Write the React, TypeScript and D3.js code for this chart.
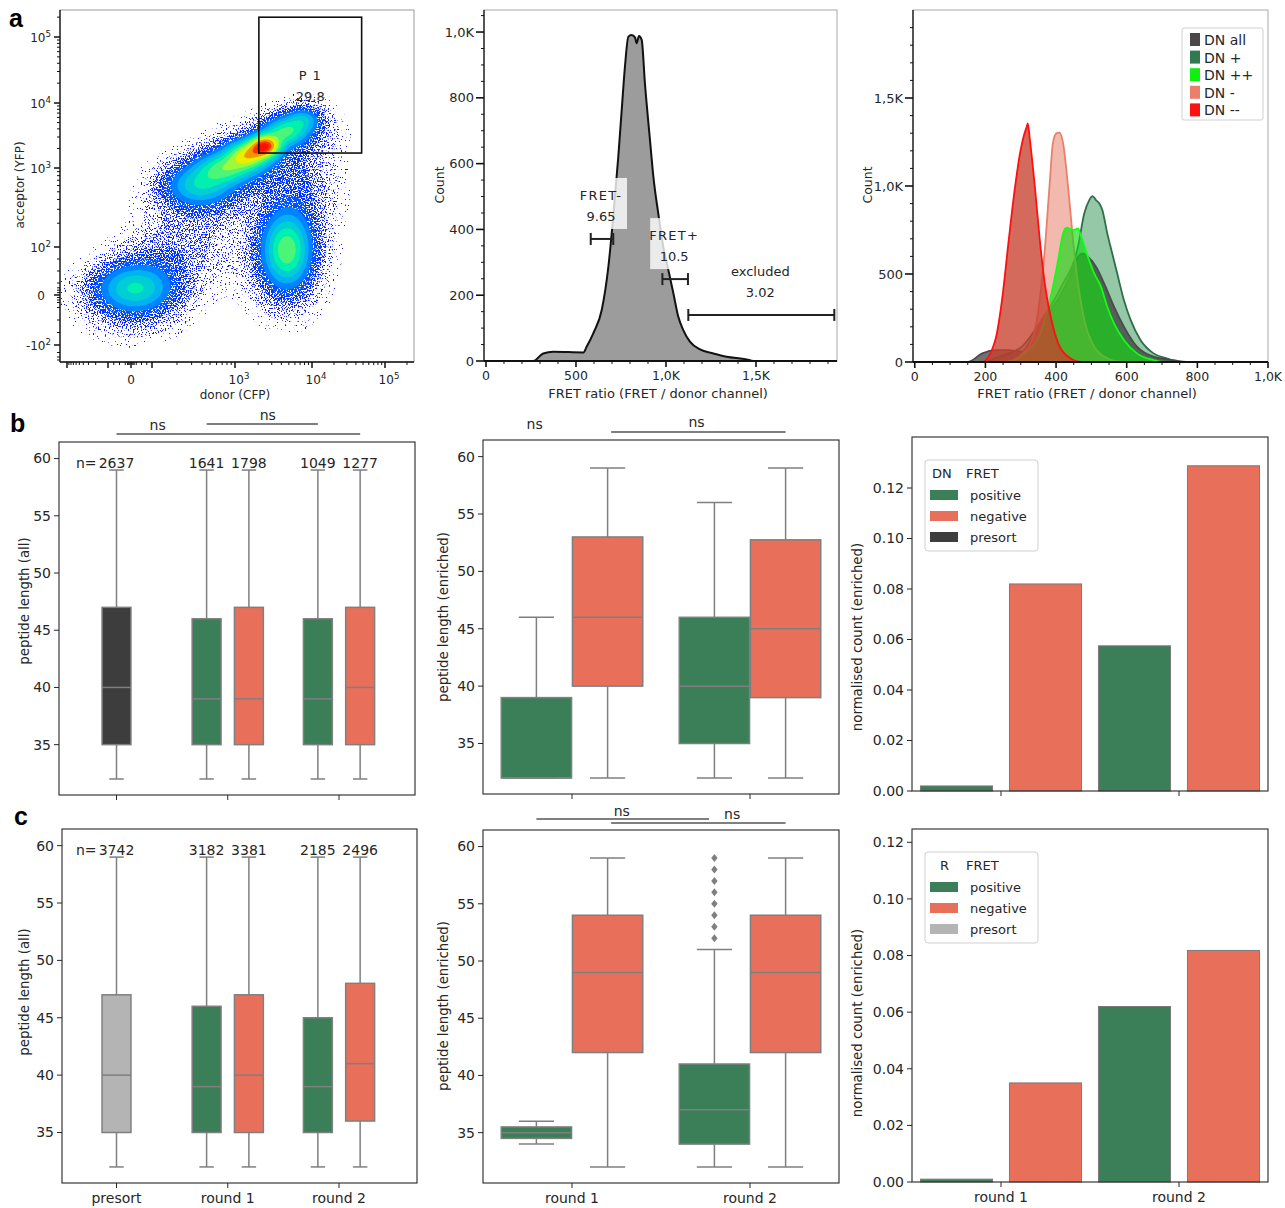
import React, { useMemo } from "react";
import * as d3 from "d3";

const FONT = "'DejaVu Sans', 'Liberation Sans', sans-serif";
const TXT = "#262626";
const GREEN = "#3b7f58";
const SALMON = "#e8705a";
const DARK_PRESORT = "#3d3d3d";
const LIGHT_PRESORT = "#b4b4b4";
const BOX_LINE = "#7f7f7f";

// ================= DATA =================
// a (left) flow density: clusters as ±1σ extents in logicle decade units (0 = zero, 3 = 10^3 ...)
const scatterComponents = [
  { x0: -1.57, x1: 2.06, y0: -0.28, y1: 0.88, w: 0.32 },
  { x0: -2.2, x1: 2.15, y0: -0.95, y1: 0.95, w: 0.1 },
  { x0: 3.49, x1: 3.86, y0: 0.96, y1: 2.24, w: 0.5 },
  { x0: 3.33, x1: 3.97, y0: 0.2, y1: 2.35, w: 0.1 },
  { x0: 2.34, x1: 2.82, y0: 2.63, y1: 2.94, w: 0.3 },
  { x0: 2.66, x1: 3.1, y0: 2.87, y1: 3.15, w: 0.45 },
  { x0: 2.99, x1: 3.35, y0: 3.06, y1: 3.34, w: 0.7 },
  { x0: 3.26, x1: 3.52, y0: 3.23, y1: 3.45, w: 1.0 },
  { x0: 3.47, x1: 3.83, y0: 3.42, y1: 3.69, w: 0.45 },
  { x0: 3.74, x1: 4.03, y0: 3.62, y1: 3.86, w: 0.25 },
  { x0: 2.22, x1: 2.94, y0: 2.47, y1: 2.97, w: 0.08 },
  { x0: 2.82, x1: 3.58, y0: 2.85, y1: 3.43, w: 0.08 },
  { x0: 3.52, x1: 4.17, y0: 3.31, y1: 3.86, w: 0.06 },
  { x0: 2.04, x1: 2.88, y0: 1.04, y1: 2.47, w: 0.04 },
  { x0: 0.38, x1: 2.4, y0: 0.54, y1: 2.06, w: 0.04 },
  { x0: 3.52, x1: 4.17, y0: 2.34, y1: 3.12, w: 0.06 },
];
const scatterGate = { x0: 3.31, x1: 4.68, y0: 3.23, y1: 5.3, name: "P 1", pct: "29.8" };
const scatterXLabels = [
  { u: 0, base: "0", sup: "" },
  { u: 3, base: "10", sup: "3" },
  { u: 4, base: "10", sup: "4" },
  { u: 5, base: "10", sup: "5" },
];
const scatterYLabels = [
  { u: -2, base: "-10", sup: "2" },
  { u: 0, base: "0", sup: "" },
  { u: 2, base: "10", sup: "2" },
  { u: 3, base: "10", sup: "3" },
  { u: 4, base: "10", sup: "4" },
  { u: 5, base: "10", sup: "5" },
];

// a (middle) FRET ratio histogram
const fretRatio = [0, 263, 318, 374, 541, 559, 596, 643, 680, 707, 735, 754, 772, 791, 809, 828, 837, 850, 865, 883, 911, 930, 957, 985, 1013, 1041, 1068, 1096, 1133, 1189, 1263, 1337, 1448, 1485, 1940];
const fretCount = [0, 0, 23, 28, 26, 43, 84, 155, 287, 439, 621, 763, 895, 986, 991, 984, 966, 988, 976, 844, 672, 560, 449, 347, 277, 206, 135, 94, 59, 35, 23, 13, 5, 0, 0];
const fretGates = [
  { name: "FRET-", pct: "9.65", x0: 582, x1: 707, y: 371 },
  { name: "FRET+", pct: "10.5", x0: 980, x1: 1122, y: 249 },
  { name: "excluded", pct: "3.02", x0: 1124, x1: 1935, y: 140 },
];

// a (right) overlaid histograms
const dnAllX = [-5, 150, 191, 228, 266, 303, 340, 378, 415, 443, 462, 476, 490, 513, 536, 564, 592, 629, 676, 732, 769, 1000];
const dnAllY = [0, 0, 49, 68, 68, 59, 163, 276, 390, 504, 598, 617, 598, 542, 447, 314, 201, 87, 30, 11, 0, 0];
const dnPlusX = [-5, 191, 238, 303, 359, 415, 462, 480, 494, 503, 513, 522, 531, 545, 559, 573, 592, 611, 639, 676, 713, 751, 1000];
const dnPlusY = [0, 0, 30, 87, 239, 428, 655, 845, 920, 943, 920, 902, 864, 731, 617, 504, 352, 239, 125, 49, 21, 0, 0];
const dnPlusPlusX = [-5, 256, 312, 359, 387, 406, 420, 430, 448, 462, 471, 490, 508, 527, 545, 564, 592, 629, 676, 704, 1000];
const dnPlusPlusY = [0, 0, 49, 182, 390, 580, 731, 763, 750, 759, 712, 598, 504, 428, 314, 220, 125, 49, 11, 0, 0];
const dnMinusX = [-5, 256, 322, 350, 368, 382, 391, 401, 410, 420, 434, 448, 462, 480, 508, 545, 583, 1000];
const dnMinusY = [0, 0, 87, 295, 636, 1015, 1242, 1299, 1303, 1242, 996, 693, 447, 239, 87, 21, 0, 0];
const dnMinusMinusX = [-5, 191, 228, 247, 266, 284, 298, 308, 317, 320, 326, 340, 354, 368, 387, 406, 434, 471, 1000];
const dnMinusMinusY = [0, 0, 125, 352, 693, 996, 1186, 1280, 1337, 1356, 1261, 996, 693, 447, 239, 106, 30, 0, 0];
const overlayNames = ["DN all", "DN +", "DN ++", "DN -", "DN --"];

// b / c box plots (peptide length)
const boxCategories = ["presort", "round 1", "round 2"];
const bAllBoxes = [
  { cat: 0, hue: "presort", lo: 32, q1: 35, med: 40, q3: 47, hi: 59, n: 2637 },
  { cat: 1, hue: "positive", lo: 32, q1: 35, med: 39, q3: 46, hi: 59, n: 1641 },
  { cat: 1, hue: "negative", lo: 32, q1: 35, med: 39, q3: 47, hi: 59, n: 1798 },
  { cat: 2, hue: "positive", lo: 32, q1: 35, med: 39, q3: 46, hi: 59, n: 1049 },
  { cat: 2, hue: "negative", lo: 32, q1: 35, med: 40, q3: 47, hi: 59, n: 1277 },
];
const cAllBoxes = [
  { cat: 0, hue: "presort", lo: 32, q1: 35, med: 40, q3: 47, hi: 59, n: 3742 },
  { cat: 1, hue: "positive", lo: 32, q1: 35, med: 39, q3: 46, hi: 59, n: 3182 },
  { cat: 1, hue: "negative", lo: 32, q1: 35, med: 40, q3: 47, hi: 59, n: 3381 },
  { cat: 2, hue: "positive", lo: 32, q1: 35, med: 39, q3: 45, hi: 59, n: 2185 },
  { cat: 2, hue: "negative", lo: 32, q1: 36, med: 41, q3: 48, hi: 59, n: 2496 },
];
const enrichedCategories = ["round 1", "round 2"];
const bEnrichedBoxes = [
  { cat: 0, hue: "positive", lo: 32, q1: 32, med: 32, q3: 39, hi: 46, out: [] as number[] },
  { cat: 0, hue: "negative", lo: 32, q1: 40, med: 46, q3: 53, hi: 59, out: [] as number[] },
  { cat: 1, hue: "positive", lo: 32, q1: 35, med: 40, q3: 46, hi: 56, out: [] as number[] },
  { cat: 1, hue: "negative", lo: 32, q1: 39, med: 45, q3: 52.75, hi: 59, out: [] as number[] },
];
const cEnrichedBoxes = [
  { cat: 0, hue: "positive", lo: 34, q1: 34.5, med: 35, q3: 35.5, hi: 36, out: [] as number[] },
  { cat: 0, hue: "negative", lo: 32, q1: 42, med: 49, q3: 54, hi: 59, out: [] as number[] },
  { cat: 1, hue: "positive", lo: 32, q1: 34, med: 37, q3: 41, hi: 51, out: [52, 53, 54, 55, 56, 57, 58, 59] },
  { cat: 1, hue: "negative", lo: 32, q1: 42, med: 49, q3: 54, hi: 59, out: [] as number[] },
];
const peptideTicks = [35, 40, 45, 50, 55, 60];

// b / c bar plots (normalised count)
const bBars = [
  { cat: 0, hue: "positive", value: 0.002 },
  { cat: 0, hue: "negative", value: 0.082 },
  { cat: 1, hue: "positive", value: 0.0575 },
  { cat: 1, hue: "negative", value: 0.1288 },
];
const cBars = [
  { cat: 0, hue: "positive", value: 0.001 },
  { cat: 0, hue: "negative", value: 0.035 },
  { cat: 1, hue: "positive", value: 0.062 },
  { cat: 1, hue: "negative", value: 0.0818 },
];
const countTicks = [0, 0.02, 0.04, 0.06, 0.08, 0.1, 0.12];
const legendHues = ["positive", "negative", "presort"];

// significance annotations (category units)
const bAllSigLines = [{ x0: 0, x1: 2.19 }, { x0: 0.81, x1: 1.81 }];
const bAllSigTexts = [{ x: 0.37, text: "ns" }, { x: 1.36, text: "ns" }];
const bEnrSigLines = [{ x0: 0.22, x1: 1.2 }];
const bEnrSigTexts = [{ x: -0.21, text: "ns" }, { x: 0.7, text: "ns" }];
const cEnrSigLines = [{ x0: -0.2, x1: 0.77 }, { x0: 0.22, x1: 1.2 }];
const cEnrSigTexts = [{ x: 0.28, text: "ns" }, { x: 0.9, text: "ns" }];

// ================= HELPERS =================
function T(props: any) {
  const { children, ...rest } = props;
  return (
    <text fontFamily={FONT} fill={TXT} {...rest}>
      {children}
    </text>
  );
}

function SupLabel({ x, y, base, sup, anchor, size }: any) {
  return (
    <text x={x} y={y} textAnchor={anchor} fontFamily={FONT} fontSize={size} fill="#222">
      {base}
      {sup ? (
        <tspan dy={-5} fontSize={size * 0.72}>
          {sup}
        </tspan>
      ) : null}
    </text>
  );
}

// ================= PANEL a: scatter =================
function ScatterPanel() {
  const L = 60, Tp = 10, R = 414, B = 362;
  const xs = d3.scaleLinear().domain([-3, -2, 0, 2, 3, 4, 5]).range([67, 108, 131, 152, 235, 312, 385]);
  const ys = d3.scaleLinear().domain([-2, 0, 2, 3, 4, 5]).range([345, 295, 247, 168, 103, 37]);
  const cell = 2;
  const gw = Math.ceil((R - L) / cell), gh = Math.ceil((B - Tp) / cell);

  const contours = useMemo(() => {
    const comps = scatterComponents.map((c) => {
      const xa = xs(c.x0), xb = xs(c.x1), ya = ys(c.y0), yb = ys(c.y1);
      return { cx: (xa + xb) / 2, cy: (ya + yb) / 2, sx: Math.abs(xb - xa) / 2, sy: Math.abs(yb - ya) / 2, w: c.w };
    });
    const vals = new Array(gw * gh).fill(0);
    let mx = 0;
    for (let j = 0; j < gh; j++) {
      for (let i = 0; i < gw; i++) {
        const px = L + (i + 0.5) * cell, py = Tp + (j + 0.5) * cell;
        let v = 0;
        for (const c of comps) {
          const dx = (px - c.cx) / c.sx, dy = (py - c.cy) / c.sy;
          v += c.w * Math.exp(-0.5 * (dx * dx + dy * dy));
        }
        vals[j * gw + i] = v;
        if (v > mx) mx = v;
      }
    }
    for (let k = 0; k < vals.length; k++) vals[k] /= mx;
    const th = [0.006, 0.015, 0.03, 0.05, 0.08, 0.12, 0.17, 0.23, 0.3, 0.38, 0.47, 0.57, 0.68, 0.8, 0.9];
    return d3.contours().size([gw, gh]).thresholds(th)(vals);
  }, []);
  const path = d3.geoPath(d3.geoIdentity().scale(cell).translate([L, Tp]) as any);
  const color = d3
    .scaleLinear<string>()
    .domain([0.006, 0.06, 0.15, 0.3, 0.55, 0.85])
    .range(["#1010ff", "#0038ff", "#00a8ff", "#00f0b0", "#e8ff00", "#ff1000"])
    .clamp(true);

  const yMajor = [-2, 0, 2, 3, 4, 5];
  const yMinor: number[] = [-2.6, -2.48, -2.3, -1.5, -1, -0.5, -0.3, -0.2, -0.1, 0.1, 0.2, 0.3, 0.5, 1, 1.5];
  [2, 3, 4].forEach((d) => d3.range(2, 10).forEach((m) => yMinor.push(d + Math.log10(m))));
  yMinor.push(5 + Math.log10(2));
  const xMajor = [-3, -2, 0, 2, 3, 4, 5];
  const xMinor: number[] = [-1.5, -1, -0.5, -0.3, -0.2, -0.1, 0.1, 0.2, 0.3, 0.5, 1, 1.5];
  d3.range(2, 10).forEach((m) => xMinor.push(-2 - Math.log10(m)));
  [2, 3, 4].forEach((d) => d3.range(2, 10).forEach((m) => xMinor.push(d + Math.log10(m))));
  xMinor.push(5 + Math.log10(2));

  const gx0 = xs(scatterGate.x0), gx1 = xs(scatterGate.x1), gy0 = ys(scatterGate.y1), gy1 = ys(scatterGate.y0);
  const speck = [
    { id: "spk0", t: 0.66 },
    { id: "spk1", t: 0.59 },
    { id: "spk2", t: 0.52 },
    { id: "spk3", t: 0.46 },
    { id: "spk4", t: 0.4 },
  ];
  return (
    <g>
      <defs>
        <clipPath id="scClip">
          <rect x={L} y={Tp} width={R - L} height={B - Tp} />
        </clipPath>
        {speck.map((s) => (
          <filter key={s.id} id={s.id} filterUnits="userSpaceOnUse" x={L} y={Tp} width={R - L} height={B - Tp}>
            <feTurbulence type="fractalNoise" baseFrequency="0.75" numOctaves={1} seed={7} result="noise" />
            <feColorMatrix
              in="noise"
              type="matrix"
              values={`0 0 0 0 0  0 0 0 0 0  0 0 0 0 0  25 0 0 0 ${-25 * s.t}`}
              result="mask"
            />
            <feComposite in="SourceGraphic" in2="mask" operator="in" />
          </filter>
        ))}
      </defs>
      <rect x={L} y={Tp} width={R - L} height={B - Tp} fill="#fff" stroke="#9a9a9a" strokeWidth={1} />
      <g clipPath="url(#scClip)">
        {contours.map((c: any, i: number) => (
          <path
            key={i}
            d={path(c) || ""}
            fill={color(c.value)}
            filter={i < speck.length ? `url(#${speck[i].id})` : undefined}
          />
        ))}
      </g>
      <line x1={L} x2={L} y1={Tp} y2={B} stroke="#111" strokeWidth={1.3} />
      <line x1={L} x2={R} y1={B} y2={B} stroke="#111" strokeWidth={1.3} />
      {yMajor.map((u) => (
        <line key={"ym" + u} x1={L - 6} x2={L} y1={ys(u)} y2={ys(u)} stroke="#111" strokeWidth={1.5} />
      ))}
      {yMinor.map((u, i) => (
        <line key={"yn" + i} x1={L - 3} x2={L} y1={ys(u)} y2={ys(u)} stroke="#111" strokeWidth={1} />
      ))}
      {xMajor.map((u) => (
        <line key={"xm" + u} x1={xs(u)} x2={xs(u)} y1={B} y2={B + 6} stroke="#111" strokeWidth={1.5} />
      ))}
      {xMinor.map((u, i) => (
        <line key={"xn" + i} x1={xs(u)} x2={xs(u)} y1={B} y2={B + 3} stroke="#111" strokeWidth={1} />
      ))}
      {scatterYLabels.map((d) => (
        <SupLabel key={"yl" + d.u} x={d.sup ? 51 : 45} y={ys(d.u) + 5} base={d.base} sup={d.sup} anchor="end" size={12} />
      ))}
      {scatterXLabels.map((d) => (
        <SupLabel key={"xl" + d.u} x={xs(d.u) + (d.sup ? 4 : 0)} y={B + 22} base={d.base} sup={d.sup} anchor="middle" size={12} />
      ))}
      <rect x={gx0} y={gy0} width={gx1 - gx0} height={gy1 - gy0} fill="none" stroke="#111" strokeWidth={1.6} />
      <T x={(gx0 + gx1) / 2} y={gy0 + 63} fontSize={13} textAnchor="middle" letterSpacing={1}>
        {scatterGate.name}
      </T>
      <T x={(gx0 + gx1) / 2} y={gy0 + 84} fontSize={13} textAnchor="middle">
        {scatterGate.pct}
      </T>
      <T x={235} y={399} fontSize={12} textAnchor="middle">
        donor (CFP)
      </T>
      <T transform="translate(20,185) rotate(-90)" dy="0.35em" fontSize={12} textAnchor="middle">
        acceptor (YFP)
      </T>
    </g>
  );
}

// ================= FlowJo axes helper =================
function FlowAxes({ L, Tp, R, B, xs, ys, xMajor, xLabels, xMinor, yMajor, yLabels, yMinor, countX, titleX }: any) {
  return (
    <g>
      <rect x={L} y={Tp} width={R - L} height={B - Tp} fill="none" stroke="#a8a8a8" strokeWidth={1} />
      <line x1={L} x2={L} y1={Tp} y2={B} stroke="#111" strokeWidth={1.3} />
      <line x1={L} x2={R} y1={B} y2={B} stroke="#111" strokeWidth={1.8} />
      {yMajor.map((v: number, i: number) => (
        <g key={"ym" + i}>
          <line x1={L - 8} x2={L} y1={ys(v)} y2={ys(v)} stroke="#111" strokeWidth={1.6} />
          <T x={L - 10} y={ys(v)} dy="0.35em" fontSize={13} textAnchor="end">
            {yLabels[i]}
          </T>
        </g>
      ))}
      {yMinor.map((v: number, i: number) => (
        <line key={"yn" + i} x1={L - 3} x2={L} y1={ys(v)} y2={ys(v)} stroke="#111" strokeWidth={1} />
      ))}
      {xMajor.map((v: number, i: number) => (
        <g key={"xm" + i}>
          <line x1={xs(v)} x2={xs(v)} y1={B} y2={B + 6} stroke="#111" strokeWidth={1.6} />
          <T x={xs(v)} y={B + 19} fontSize={12.5} textAnchor="middle">
            {xLabels[i]}
          </T>
        </g>
      ))}
      {xMinor.map((v: number, i: number) => (
        <line key={"xn" + i} x1={xs(v)} x2={xs(v)} y1={B} y2={B + 3} stroke="#111" strokeWidth={1} />
      ))}
      <T transform={`translate(${countX},185) rotate(-90)`} dy="0.35em" fontSize={12.5} textAnchor="middle">
        Count
      </T>
      <T x={titleX} y={398} fontSize={13} textAnchor="middle">
        FRET ratio (FRET / donor channel)
      </T>
    </g>
  );
}

function FretHistPanel() {
  const L = 484, Tp = 10, R = 837, B = 361;
  const xs = d3.scaleLinear().domain([-11, 1950]).range([L, R]);
  const ys = d3.scaleLinear().domain([0, 1067]).range([B, Tp]);
  const area = d3
    .area<number>()
    .x((_, i) => xs(fretRatio[i]))
    .y0(B)
    .y1((d) => ys(d))
    .curve(d3.curveMonotoneX);
  const line = d3
    .line<number>()
    .x((_, i) => xs(fretRatio[i]))
    .y((d) => ys(d))
    .curve(d3.curveMonotoneX);
  const xMajor = [0, 500, 1000, 1500];
  const yMajor = [0, 200, 400, 600, 800, 1000];
  return (
    <g>
      <path d={area(fretCount) || ""} fill="#9c9c9c" />
      <path d={line(fretCount) || ""} fill="none" stroke="#111" strokeWidth={2} />
      {fretGates.map((g) => {
        const a = xs(g.x0), b = xs(g.x1), y = ys(g.y), cx = (a + b) / 2 - 1;
        const hw = g.name === "excluded" ? 32 : 24;
        return (
          <g key={g.name}>
            <rect x={cx - hw} y={y - 61} width={hw * 2 + 2} height={51} fill="#fff" opacity={0.8} />
            <line x1={a} x2={b} y1={y} y2={y} stroke="#222" strokeWidth={2} />
            <line x1={a} x2={a} y1={y - 6} y2={y + 6} stroke="#222" strokeWidth={2} />
            <line x1={b} x2={b} y1={y - 6} y2={y + 6} stroke="#222" strokeWidth={2} />
            <T x={cx} y={y - 39} fontSize={13} textAnchor="middle" letterSpacing={g.name === "excluded" ? 0 : 1.3}>
              {g.name}
            </T>
            <T x={cx} y={y - 18} fontSize={13} textAnchor="middle">
              {g.pct}
            </T>
          </g>
        );
      })}
      <FlowAxes
        L={L}
        Tp={Tp}
        R={R}
        B={B}
        xs={xs}
        ys={ys}
        xMajor={xMajor}
        xLabels={["0", "500", "1,0K", "1,5K"]}
        xMinor={d3.range(100, 1950, 100).filter((v) => v % 500 !== 0)}
        yMajor={yMajor}
        yLabels={["0", "200", "400", "600", "800", "1,0K"]}
        yMinor={d3.range(50, 1060, 50).filter((v) => v % 200 !== 0)}
        countX={440}
        titleX={658}
      />
    </g>
  );
}

function OverlayPanel() {
  const L = 913, Tp = 10, R = 1268, B = 362;
  const xs = d3.scaleLinear().domain([-5, 1000]).range([L, R]);
  const ys = d3.scaleLinear().domain([0, 2000]).range([B, Tp]);
  const seriesX: Record<string, number[]> = {
    "DN all": dnAllX, "DN +": dnPlusX, "DN ++": dnPlusPlusX, "DN -": dnMinusX, "DN --": dnMinusMinusX,
  };
  const seriesY: Record<string, number[]> = {
    "DN all": dnAllY, "DN +": dnPlusY, "DN ++": dnPlusPlusY, "DN -": dnMinusY, "DN --": dnMinusMinusY,
  };
  const style: Record<string, any> = {
    "DN all": { fill: "#3a3a3a", op: 0.72, stroke: "#4a4a4a", legend: "#4d4648" },
    "DN +": { fill: "#3d9a5c", op: 0.55, stroke: "#2f6e49", legend: "#2f7a4f" },
    "DN ++": { fill: "#14d814", op: 0.65, stroke: "#11ff11", legend: "#11ee11" },
    "DN -": { fill: "#e8806c", op: 0.55, stroke: "#e8806c", legend: "#e8806c" },
    "DN --": { fill: "#c8402e", op: 0.78, stroke: "#ff1010", legend: "#ff1010" },
  };
  const drawOrder = ["DN +", "DN all", "DN -", "DN ++", "DN --"];
  return (
    <g>
      <defs>
        <clipPath id="ovClip">
          <rect x={L} y={Tp} width={R - L} height={B - Tp} />
        </clipPath>
      </defs>
      <g clipPath="url(#ovClip)">
        {drawOrder.map((nm) => {
          const xv = seriesX[nm];
          const ar = d3
            .area<number>()
            .x((_, i) => xs(xv[i]))
            .y0(B)
            .y1((d) => ys(d))
            .curve(d3.curveMonotoneX);
          const ln = d3
            .line<number>()
            .x((_, i) => xs(xv[i]))
            .y((d) => ys(d))
            .curve(d3.curveMonotoneX);
          return (
            <g key={nm}>
              <path d={ar(seriesY[nm]) || ""} fill={style[nm].fill} fillOpacity={style[nm].op} />
              <path d={ln(seriesY[nm]) || ""} fill="none" stroke={style[nm].stroke} strokeWidth={1.8} />
            </g>
          );
        })}
      </g>
      <FlowAxes
        L={L}
        Tp={Tp}
        R={R}
        B={B}
        xs={xs}
        ys={ys}
        xMajor={[0, 200, 400, 600, 800, 1000]}
        xLabels={["0", "200", "400", "600", "800", "1,0K"]}
        xMinor={d3.range(50, 1000, 50).filter((v) => v % 200 !== 0)}
        yMajor={[0, 500, 1000, 1500]}
        yLabels={["0", "500", "1,0K", "1,5K"]}
        yMinor={d3.range(100, 2000, 100).filter((v) => v % 500 !== 0)}
        countX={868}
        titleX={1087}
      />
      <rect x={1182} y={28} width={81} height={92} fill="#fff" stroke="#d0d0d0" strokeWidth={1} rx={2} />
      {overlayNames.map((nm, i) => (
        <g key={nm}>
          <rect x={1190} y={33 + i * 17.6} width={10} height={13} fill={style[nm].legend} />
          <T x={1204} y={45 + i * 17.6} fontSize={14}>
            {nm}
          </T>
        </g>
      ))}
    </g>
  );
}

// ================= matplotlib-style helpers =================
function MplYAxis({ l, ys, ticks, fmt }: any) {
  return (
    <g>
      {ticks.map((v: number) => (
        <g key={v}>
          <line x1={l - 5} x2={l} y1={ys(v)} y2={ys(v)} stroke={TXT} strokeWidth={1} />
          <T x={l - 8} y={ys(v)} dy="0.35em" fontSize={14} textAnchor="end">
            {fmt(v)}
          </T>
        </g>
      ))}
    </g>
  );
}

function MplXAxis({ b, positions, labels }: any) {
  return (
    <g>
      {positions.map((x: number, i: number) => (
        <g key={i}>
          <line x1={x} x2={x} y1={b} y2={b + 5} stroke={TXT} strokeWidth={1} />
          {labels ? (
            <T x={x} y={b + 20} fontSize={14} textAnchor="middle">
              {labels[i]}
            </T>
          ) : null}
        </g>
      ))}
    </g>
  );
}

function BoxGlyph({ cx, w, ys, d, fill }: any) {
  const sw = 1.5;
  return (
    <g>
      <line x1={cx} x2={cx} y1={ys(d.hi)} y2={ys(d.q3)} stroke={BOX_LINE} strokeWidth={sw} />
      <line x1={cx} x2={cx} y1={ys(d.q1)} y2={ys(d.lo)} stroke={BOX_LINE} strokeWidth={sw} />
      <line x1={cx - w / 4} x2={cx + w / 4} y1={ys(d.hi)} y2={ys(d.hi)} stroke={BOX_LINE} strokeWidth={sw} />
      <line x1={cx - w / 4} x2={cx + w / 4} y1={ys(d.lo)} y2={ys(d.lo)} stroke={BOX_LINE} strokeWidth={sw} />
      <rect x={cx - w / 2} y={ys(d.q3)} width={w} height={ys(d.q1) - ys(d.q3)} fill={fill} stroke={BOX_LINE} strokeWidth={sw} />
      <line x1={cx - w / 2} x2={cx + w / 2} y1={ys(d.med)} y2={ys(d.med)} stroke={BOX_LINE} strokeWidth={sw} />
      {(d.out || []).map((o: number, i: number) => {
        const y = ys(o);
        return <path key={i} d={`M${cx},${y - 4}L${cx + 3.2},${y}L${cx},${y + 4}L${cx - 3.2},${y}Z`} fill={BOX_LINE} />;
      })}
    </g>
  );
}

function hueColor(hue: string, presort: string) {
  return hue === "positive" ? GREEN : hue === "negative" ? SALMON : presort;
}

function BoxPanel({ frame, boxes, catX, offsets, widthU, labels, showN, ylabel, ylab, presort, sigLines, sigTexts, sigLineY, sigTextY }: any) {
  const { l, t, r, b } = frame;
  const ys = d3.scaleLinear().domain([30.6, 61.45]).range([b, t]);
  const unit = catX(1) - catX(0);
  const w = widthU * unit;
  const nCats = labels ? labels.length : boxes.reduce((m: number, d: any) => Math.max(m, d.cat + 1), 0);
  return (
    <g>
      {boxes.map((d: any, i: number) => {
        const cx = catX(d.cat + offsets[d.hue]);
        return (
          <g key={i}>
            <BoxGlyph cx={cx} w={w} ys={ys} d={d} fill={hueColor(d.hue, presort)} />
            {showN ? (
              <T x={cx} y={ys(d.hi) - 2.5} fontSize={14} textAnchor="middle">
                {d.n}
              </T>
            ) : null}
            {showN && i === 0 ? (
              <T x={cx - 20} y={ys(d.hi) - 2.5} fontSize={14} textAnchor="end">
                n=
              </T>
            ) : null}
          </g>
        );
      })}
      <rect x={l} y={t} width={r - l} height={b - t} fill="none" stroke={TXT} strokeWidth={1.1} />
      <MplYAxis l={l} ys={ys} ticks={peptideTicks} fmt={(v: number) => String(v)} />
      <MplXAxis b={b} positions={d3.range(nCats).map((i) => catX(i))} labels={labels} />
      <T transform={`translate(${ylab.x},${ylab.y}) rotate(-90)`} dy="0.35em" fontSize={13.3} textAnchor="middle">
        {ylabel}
      </T>
      {(sigLines || []).map((s: any, i: number) => (
        <line key={"sl" + i} x1={catX(s.x0)} x2={catX(s.x1)} y1={sigLineY[i]} y2={sigLineY[i]} stroke="#555" strokeWidth={1.4} />
      ))}
      {(sigTexts || []).map((s: any, i: number) => (
        <T key={"st" + i} x={catX(s.x)} y={sigTextY[i]} fontSize={14} textAnchor="middle">
          {s.text}
        </T>
      ))}
    </g>
  );
}

function BarPanel({ frame, bars, yMax, labels, legendTitle, presort, ylab }: any) {
  const { l, t, r, b } = frame;
  const catX = d3.scaleLinear().domain([-0.5, 1.5]).range([l, r]);
  const ys = d3.scaleLinear().domain([0, yMax]).range([b, t]);
  const offsets: Record<string, number> = { positive: -0.25, negative: 0.25 };
  const w = 0.405 * (catX(1) - catX(0));
  const lx = l + 13, ly = t + 23;
  return (
    <g>
      {bars.map((d: any, i: number) => {
        const cx = catX(d.cat + offsets[d.hue]);
        return (
          <rect
            key={i}
            x={cx - w / 2}
            y={ys(d.value)}
            width={w}
            height={b - ys(d.value)}
            fill={hueColor(d.hue, presort)}
            stroke="#7a7a7a"
            strokeWidth={1}
          />
        );
      })}
      <rect x={l} y={t} width={r - l} height={b - t} fill="none" stroke={TXT} strokeWidth={1.1} />
      <MplYAxis l={l} ys={ys} ticks={countTicks} fmt={d3.format(".2f")} />
      <MplXAxis b={b} positions={[catX(0), catX(1)]} labels={labels} />
      <T transform={`translate(${ylab.x},${ylab.y}) rotate(-90)`} dy="0.35em" fontSize={13.3} textAnchor="middle">
        normalised count (enriched)
      </T>
      <rect x={lx} y={ly} width={113} height={91} fill="#fff" fillOpacity={0.85} stroke="#d0d0d0" strokeWidth={1} rx={3} />
      <T x={legendTitle === "DN" ? lx + 7 : lx + 15} y={ly + 18} fontSize={13}>
        {legendTitle}
      </T>
      <T x={lx + 41} y={ly + 18} fontSize={13}>
        FRET
      </T>
      {legendHues.map((h, i) => (
        <g key={h}>
          <rect x={lx + 5} y={ly + 30 + i * 21} width={28} height={10} fill={hueColor(h, presort)} />
          <T x={lx + 45} y={ly + 40 + i * 21} fontSize={13}>
            {h}
          </T>
        </g>
      ))}
    </g>
  );
}

// ================= APP =================
export default function App() {
  const leftCat = d3.scaleLinear().domain([0, 2]).range([116.5, 339]);
  const midCat = d3.scaleLinear().domain([0, 1]).range([572, 750]);
  const leftOffsets = { presort: 0, positive: -0.19, negative: 0.19 };
  const midOffsets = { positive: -0.2, negative: 0.2 };
  return (
    <svg
      width={1285}
      height={1208}
      viewBox="0 0 1285 1208"
      style={{ position: "absolute", left: 0, top: 0, background: "#fff" }}
      fontFamily={FONT}
    >
      <rect x={0} y={0} width={1285} height={1208} fill="#fff" />
      <ScatterPanel />
      <FretHistPanel />
      <OverlayPanel />

      <BoxPanel
        frame={{ l: 59, t: 442, r: 415, b: 795 }}
        boxes={bAllBoxes}
        catX={leftCat}
        offsets={leftOffsets}
        widthU={0.26}
        labels={null}
        showN={true}
        ylabel="peptide length (all)"
        ylab={{ x: 24, y: 601 }}
        presort={DARK_PRESORT}
        sigLines={bAllSigLines}
        sigTexts={bAllSigTexts}
        sigLineY={[434, 424]}
        sigTextY={[430, 420]}
      />
      <BoxPanel
        frame={{ l: 483, t: 440, r: 839, b: 794 }}
        boxes={bEnrichedBoxes}
        catX={midCat}
        offsets={midOffsets}
        widthU={0.395}
        labels={null}
        showN={false}
        ylabel="peptide length (enriched)"
        ylab={{ x: 443, y: 617 }}
        presort={DARK_PRESORT}
        sigLines={bEnrSigLines}
        sigTexts={bEnrSigTexts}
        sigLineY={[432]}
        sigTextY={[429, 427]}
      />
      <BarPanel
        frame={{ l: 912, t: 437, r: 1268, b: 791 }}
        bars={bBars}
        yMax={0.1402}
        labels={null}
        legendTitle="DN"
        presort={DARK_PRESORT}
        ylab={{ x: 857, y: 637 }}
      />

      <BoxPanel
        frame={{ l: 62, t: 829, r: 417, b: 1183 }}
        boxes={cAllBoxes}
        catX={leftCat}
        offsets={leftOffsets}
        widthU={0.26}
        labels={boxCategories}
        showN={true}
        ylabel="peptide length (all)"
        ylab={{ x: 24, y: 992 }}
        presort={LIGHT_PRESORT}
        sigLines={[]}
        sigTexts={[]}
        sigLineY={[]}
        sigTextY={[]}
      />
      <BoxPanel
        frame={{ l: 483, t: 830, r: 839, b: 1183 }}
        boxes={cEnrichedBoxes}
        catX={midCat}
        offsets={midOffsets}
        widthU={0.395}
        labels={enrichedCategories}
        showN={false}
        ylabel="peptide length (enriched)"
        ylab={{ x: 443, y: 1006 }}
        presort={LIGHT_PRESORT}
        sigLines={cEnrSigLines}
        sigTexts={cEnrSigTexts}
        sigLineY={[819, 823]}
        sigTextY={[816, 819]}
      />
      <BarPanel
        frame={{ l: 912, t: 829, r: 1268, b: 1182 }}
        bars={cBars}
        yMax={0.1247}
        labels={enrichedCategories}
        legendTitle="R"
        presort={LIGHT_PRESORT}
        ylab={{ x: 857, y: 1023 }}
      />

      <text x={9} y={27} fontFamily="'Liberation Sans', Arial, sans-serif" fontWeight="bold" fontSize={25} fill="#000">
        a
      </text>
      <text x={10} y={432} fontFamily="'Liberation Sans', Arial, sans-serif" fontWeight="bold" fontSize={25} fill="#000">
        b
      </text>
      <text x={14} y={825} fontFamily="'Liberation Sans', Arial, sans-serif" fontWeight="bold" fontSize={25} fill="#000">
        c
      </text>
    </svg>
  );
}
